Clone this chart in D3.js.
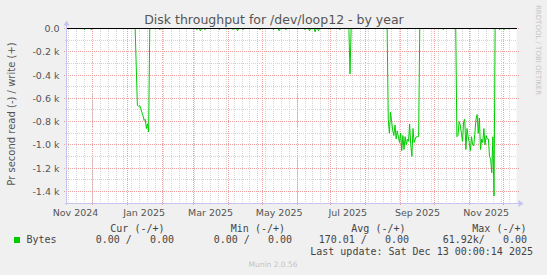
<!DOCTYPE html>
<html>
<head>
<meta charset="utf-8">
<script src="https://cdn.jsdelivr.net/npm/d3@7"></script>
<style>
  html, body { margin: 0; padding: 0; background: #f0f0f0; }
  svg { display: block; }
  .mono { font-family: "DejaVu Sans Mono", monospace; font-size: 10px; fill: #444; white-space: pre; }
  .sans { font-family: "DejaVu Sans", sans-serif; }
</style>
</head>
<body>
<svg id="chart" width="547" height="275"></svg>
<script>

// time window: 400 days ending at last update
let range_start = Date.UTC(2024, 10, 8)
let range_end = Date.UTC(2025, 11, 13)

// read throughput, k bytes/s, one value per day counted from range_start
// days that are not listed are zero
let jan_start = 61
let jan_values = [0, -0.33, -0.66, -0.67, -0.66, -0.69, -0.72, -0.75, -0.79, -0.78, -0.86, -0.82, -0.89, 0]

let jul_start = 251
let jul_values = [0, -0.39, 0]

let sep_start = 285
let sep_values = [0, -0.78, -0.9, -0.72, -0.8, -0.88, -0.92, -0.83, -0.95, -0.88, -0.93, -0.98, -0.9, -1.05, -0.92,
    -1.04, -0.93, -1.0, -0.95, -0.97, -0.82, -1.0, -1.1, -0.86, -0.98, -0.95, -0.93, -0.93, -0.93, 0]

let nov_start = 346
let nov_values = [0, -0.93, -0.92, -0.8, -0.83, -0.9, -0.97, -0.8, -0.78, -1.04, -0.86, -0.93, -0.98, -1.05, -0.93,
    -1.0, -1.01, -0.9, -0.78, -0.74, -0.9, -0.77, -1.04, -0.95, -0.98, -0.86, -1.0, -0.92, -0.95, -0.95,
    -1.1, -1.12, -1.24, -0.93, -1.44, 0]

let dip_days = [16, 22, 83, 116, 119, 123, 136, 148, 152, 157, 172, 184, 189, 195, 212, 216, 221, 224, 243, 335, 385, 389]
let dip_values = [-0.01, -0.01, -0.01, -0.01, -0.02, -0.01, -0.01, -0.01, -0.02, -0.01, -0.01, -0.01, -0.02, -0.01,
    -0.01, -0.02, -0.03, -0.02, -0.01, -0.01, -0.01, -0.01]

let y_tick_values = [0, -0.2, -0.4, -0.6, -0.8, -1.0, -1.2, -1.4]
let y_tick_labels = ["0.0", "-0.2 k", "-0.4 k", "-0.6 k", "-0.8 k", "-1.0 k", "-1.2 k", "-1.4 k"]
let x_label_months = ["2024-11", "2025-01", "2025-03", "2025-05", "2025-07", "2025-09", "2025-11"]
let x_labels = ["Nov 2024", "Jan 2025", "Mar 2025", "May 2025", "Jul 2025", "Sep 2025", "Nov 2025"]

let legend_name = "Bytes"
let legend_heads = ["Cur (-/+)", "Min (-/+)", "Avg (-/+)", "Max (-/+)"]
let legend_read = ["0.00", "0.00", "170.01", "61.92k"]
let legend_write = ["0.00", "0.00", "0.00", "0.00"]
let last_update = "Last update: Sat Dec 13 00:00:14 2025"

let title = "Disk throughput for /dev/loop12 - by year"
let y_title = "Pr second read (-) / write (+)"


const DAY = 24 * 3600 * 1000
let day_count = Math.round((range_end - range_start) / DAY)

// build the daily series
let values = new Array(day_count + 1).fill(0)
function put(start, list) {
    for (let i = 0; i < list.length; i++) values[start + i] = list[i]
}
put(jan_start, jan_values)
put(jul_start, jul_values)
put(sep_start, sep_values)
put(nov_start, nov_values)
for (let i = 0; i < dip_days.length; i++) values[dip_days[i]] = dip_values[i]

let series = values.map((v, i) => ({ t: new Date(range_start + i * DAY), v: v }))

let plot_left = 66.5, plot_right = 516.5, plot_top = 28.5, plot_bottom = 203
let x = d3.scaleUtc().domain([new Date(range_start), new Date(range_end)]).range([plot_left, plot_right])
let y = d3.scaleLinear().domain([-1.5, 0]).range([plot_bottom, plot_top])

let px = (v) => Math.round(v - 0.5) + 0.5

let svg = d3.select('#chart')

svg.append('rect').attr('width', 547).attr('height', 275).attr('fill', '#f0f0f0')
svg.append('rect').attr('x', plot_left).attr('y', plot_top - 0.5)
    .attr('width', plot_right - plot_left).attr('height', plot_bottom - plot_top + 0.5).attr('fill', '#ffffff')

let grid = svg.append('g').attr('shape-rendering', 'crispEdges')

// minor grid: weeks and 0.1 k
grid.selectAll('.vminor')
    .data(d3.utcSunday.range(new Date(range_start), new Date(range_end)))
    .join('line')
    .attr('x1', (d) => px(x(d))).attr('x2', (d) => px(x(d)))
    .attr('y1', plot_top).attr('y2', plot_bottom + 2)
    .attr('stroke', '#d4d4d4').attr('stroke-dasharray', '1,1')

grid.selectAll('.hminor')
    .data(y.ticks(15).filter((d) => Math.abs(Math.round(d * 10)) % 2 == 1))
    .join('line')
    .attr('x1', plot_left - 2).attr('x2', plot_right)
    .attr('y1', (d) => px(y(d))).attr('y2', (d) => px(y(d)))
    .attr('stroke', '#d4d4d4').attr('stroke-dasharray', '1,1')

// major grid: months and 0.2 k
grid.selectAll('.vmajor')
    .data(d3.utcMonth.range(new Date(range_start), new Date(range_end)))
    .join('line')
    .attr('x1', (d) => px(x(d))).attr('x2', (d) => px(x(d)))
    .attr('y1', plot_top).attr('y2', plot_bottom + 3)
    .attr('stroke', '#eea0a0').attr('stroke-dasharray', '1,1')

grid.selectAll('.hmajor')
    .data(y_tick_values)
    .join('line')
    .attr('x1', plot_left - 3).attr('x2', plot_right + 2)
    .attr('y1', (d) => px(y(d))).attr('y2', (d) => px(y(d)))
    .attr('stroke', '#eea0a0').attr('stroke-dasharray', '1,1')

// data
let line = d3.line().x((d) => x(d.t)).y((d) => y(d.v))
svg.append('path')
    .datum(series)
    .attr('d', line)
    .attr('fill', 'none')
    .attr('stroke', '#00cc00')
    .attr('stroke-width', 1)

// zero rule
svg.append('line')
    .attr('x1', plot_left).attr('x2', plot_right)
    .attr('y1', px(y(0))).attr('y2', px(y(0)))
    .attr('stroke', '#000000').attr('stroke-width', 1)
    .attr('shape-rendering', 'crispEdges')

// axes with arrows
let axis_color = '#c4c4ee'
svg.append('line').attr('x1', plot_left).attr('x2', plot_left).attr('y1', plot_bottom + 2).attr('y2', plot_top - 4)
    .attr('stroke', axis_color).attr('shape-rendering', 'crispEdges')
svg.append('line').attr('x1', plot_left - 2).attr('x2', plot_right + 3).attr('y1', px(plot_bottom)).attr('y2', px(plot_bottom))
    .attr('stroke', axis_color).attr('shape-rendering', 'crispEdges')
svg.append('path')
    .attr('d', `M${plot_left - 3},${plot_top - 3}L${plot_left + 3},${plot_top - 3}L${plot_left},${plot_top - 8}Z`)
    .attr('fill', axis_color)
svg.append('path')
    .attr('d', `M${plot_right + 2},${px(plot_bottom) - 3.5}L${plot_right + 2},${px(plot_bottom) + 3.5}L${plot_right + 7},${px(plot_bottom)}Z`)
    .attr('fill', axis_color)

// y labels
svg.selectAll('.ylab')
    .data(y_tick_values)
    .join('text')
    .attr('class', 'sans')
    .attr('x', 59.5)
    .attr('y', (d) => y(d) + 3.5)
    .attr('text-anchor', 'end')
    .attr('font-size', '9.5px')
    .attr('fill', '#555')
    .text((d, i) => y_tick_labels[i])

// x labels, centred half a month after the month start
svg.selectAll('.xlab')
    .data(x_label_months)
    .join('text')
    .attr('class', 'sans')
    .attr('x', (d) => x(new Date(Date.parse(d + '-01T00:00:00Z') + 15 * DAY)))
    .attr('y', 215.5)
    .attr('text-anchor', 'middle')
    .attr('font-size', '9.5px')
    .attr('fill', '#555')
    .text((d, i) => x_labels[i])

// titles
svg.append('text').attr('class', 'sans')
    .attr('x', 274).attr('y', 24)
    .attr('text-anchor', 'middle')
    .attr('font-size', '12.5px')
    .attr('fill', '#555')
    .text(title)

svg.append('text').attr('class', 'sans')
    .attr('transform', 'translate(15,114) rotate(-90)')
    .attr('text-anchor', 'middle')
    .attr('font-size', '10px')
    .attr('fill', '#555')
    .text(y_title)

svg.append('text').attr('class', 'sans')
    .attr('transform', 'translate(536,5) rotate(90)')
    .attr('font-size', '7px')
    .attr('fill', '#c4c4c4')
    .text('RRDTOOL / TOBI OETIKER')

// legend
svg.append('rect').attr('x', 14).attr('y', 237).attr('width', 6).attr('height', 6).attr('fill', '#00cc00')
svg.append('text').attr('class', 'mono').attr('x', 26.5).attr('y', 243.3).text(legend_name)

let head_ends = [164.5, 285, 405.5, 526.5]
let value_ends = [174, 292, 409, 527]

svg.selectAll('.head')
    .data(legend_heads)
    .join('text')
    .attr('class', 'mono')
    .attr('x', (d, i) => head_ends[i])
    .attr('y', 231.5)
    .attr('text-anchor', 'end')
    .text((d) => d)

svg.selectAll('.vals')
    .data(legend_read)
    .join('text')
    .attr('class', 'mono')
    .attr('x', (d, i) => value_ends[i])
    .attr('y', 243.3)
    .attr('text-anchor', 'end')
    .text((d, i) => {
        let first = d.endsWith('k') ? d + '/' : d + ' /'
        return first + '   ' + legend_write[i]
    })

svg.append('text').attr('class', 'mono')
    .attr('x', 533).attr('y', 254.5)
    .attr('text-anchor', 'end')
    .text(last_update)

svg.append('text').attr('class', 'sans')
    .attr('x', 273).attr('y', 267)
    .attr('text-anchor', 'middle')
    .attr('font-size', '7.5px')
    .attr('fill', '#c4c4c4')
    .text('Munin 2.0.56')

</script>
</body>
</html>
